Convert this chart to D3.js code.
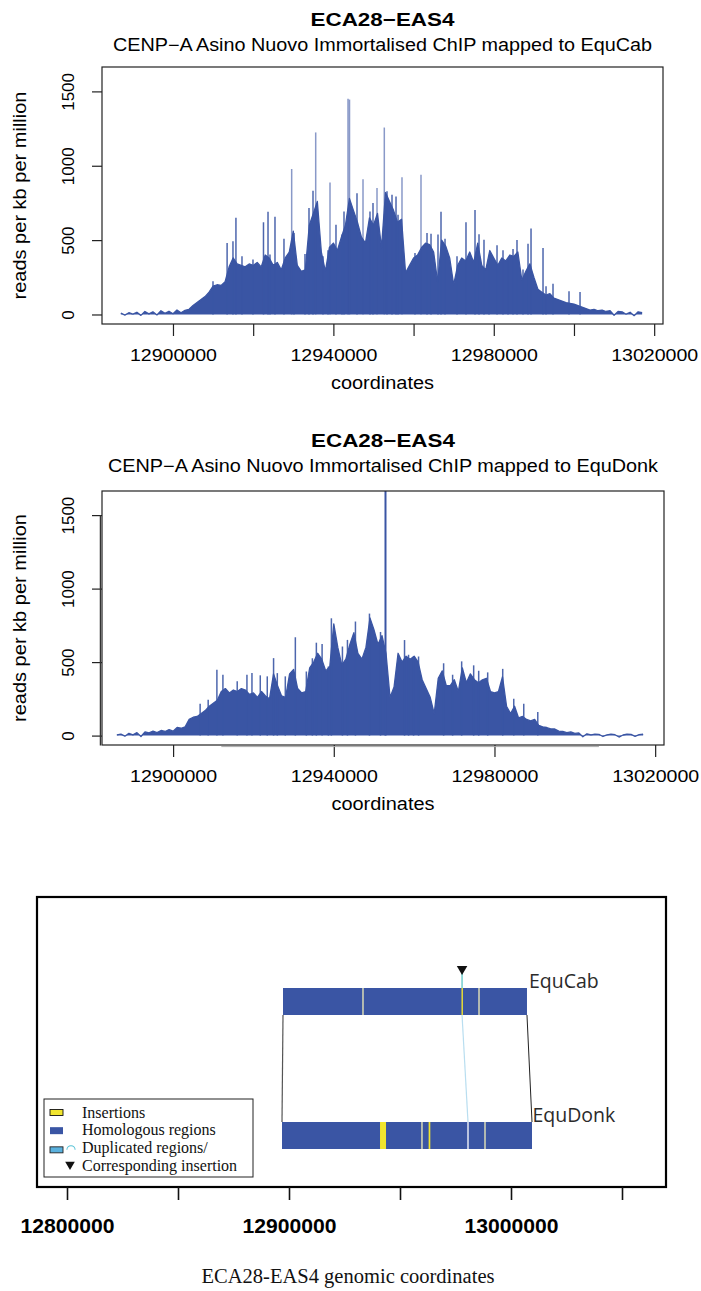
<!DOCTYPE html>
<html>
<head>
<meta charset="utf-8">
<script src="https://cdn.jsdelivr.net/npm/d3@7"></script>
<style>
  body { margin: 0; background: #fff; }
  svg { display: block; }
</style>
</head>
<body>
<svg id="fig" width="701" height="1291"></svg>
<script>
// ---------- CENP-A ChIP coverage, reads per kb per million, 1 kb bins ----------
const binSize = 1000;

// mapped to EquCab
const cabStart = 12887000;
const cabValues = [
  10, -4, 12, 2, 15, -6, 20, 4, 18, -3,
  25, 8, 22, 5, 30, 12, 28, 35, 60, 80,
  100, 120, 150, 190, 200, 195, 220, 320, 380, 340,
  330, 320, 340, 330, 350, 320, 400, 380, 330, 350,
  300, 380, 420, 560, 330, 290, 300, 600, 680, 760,
  420, 290, 450, 480, 430, 520, 600, 780, 700, 620,
  520, 480, 650, 600, 680, 450, 820, 760, 700, 620,
  640, 280, 330, 380, 400, 450, 480, 470, 420, 220,
  500, 460, 380, 200, 330, 380, 360, 420, 350, 480,
  330, 300, 430, 380, 330, 380, 360, 400, 390, 420,
  230, 290, 340, 250, 170, 150, 130, 140, 110, 100,
  90, 80, 75, 70, 60, 50, 40, 30, 35, 25,
  30, 20, 25, -5, 20, 18, 2, 15, -8, 18,
  12
];
// narrow peaks standing above the neighbouring bins
const cabPeakPos = [
  12909980, 12913500, 12914960, 12915700, 12917210, 12919950, 12922570,
  12923700, 12924190, 12925440, 12927680, 12929600, 12930180, 12932920,
  12933920, 12934920, 12935590, 12937410, 12938660, 12939160, 12940650,
  12942150, 12942650, 12943650, 12944020, 12945890, 12947390, 12949130,
  12949880, 12950880, 12952700, 12953370, 12954620, 12955620, 12956120,
  12957110, 12960350, 12961850, 12963350, 12964350, 12966090, 12966840,
  12967840, 12970830, 12973070, 12975320, 12976320, 12977560, 12978810,
  12980810, 12982300, 12983550, 12984800, 12985790, 12987290, 12988540,
  12989290, 12992280, 12993030, 12994770, 12998760, 13001510
];
const cabPeakVal = [
  224, 480, 492, 650, 391, 369, 620,
  690, 403, 657, 510, 978, 548, 407,
  716, 832, 1224, 391, 432, 888, 604,
  537, 693, 1450, 1445, 815, 910, 693,
  750, 851, 1257, 829, 805, 794, 671,
  922, 414, 940, 548, 543, 537, 691,
  510, 392, 620, 702, 540, 502, 369,
  465, 432, 369, 441, 500, 302, 475,
  578, 447, 190, 206, 157, 152
];

// mapped to EquDonk
const donkStart = 12886000;
const donkValues = [
  5, 10, -4, 15, 5, 20, -6, 25, 18, 30,
  20, 35, 28, 40, 30, 55, 50, 60, 110, 125,
  130, 150, 170, 200, 220, 240, 300, 320, 290, 310,
  300, 320, 310, 280, 290, 260, 300, 270, 250, 420,
  340, 270, 260, 420, 450, 320, 290, 300, 460, 500,
  560, 520, 440, 470, 760, 600, 480, 520, 620, 700,
  560, 520, 600, 800, 720, 620, 680, 560, 260, 330,
  560, 500, 540, 520, 540, 500, 380, 320, 260, 150,
  390, 440, 340, 340, 380, 300, 460, 360, 420, 380,
  360, 380, 390, 300, 290, 300, 400, 200, 150, 200,
  120, 130, 110, 100, 110, 70, 60, 55, 45, 45,
  30, 28, 20, 25, 15, 18, -8, 12, 5, 10,
  8, -6, 5, 10, 6, -10, 4, 10, 8, -5,
  6, 10
];
const donkPeakPos = [
  12906730, 12908730, 12910900, 12912400, 12915960, 12918380, 12919630,
  12921700, 12923440, 12925010, 12925940, 12927930, 12930430, 12933170,
  12934670, 12935660, 12937090, 12938660, 12939400, 12942150, 12943400,
  12945390, 12948880, 12951630, 12952870, 12957610, 12958610, 12959860,
  12961100, 12967340, 12969580, 12971830, 12974820, 12976070, 12978310,
  12982050, 12984800, 12987290, 12990780
];
const donkPeakVal = [
  217, 244, 448, 414, 369, 414, 425,
  410, 403, 527, 425, 403, 669, 436,
  526, 632, 623, 470, 798, 606, 651,
  776, 830, 705, 1720, 650, 550, 538,
  538, 492, 414, 505, 478, 441, 430,
  454, 250, 217, 160
];

const yTickValues = [0, 500, 1000, 1500];
const cabTickValues = [12900000, 12920000, 12940000, 12960000, 12980000, 13000000, 13020000];
const donkTickValues = [12900000, 12940000, 12980000, 13020000];
const labelledTicks = [12900000, 12940000, 12980000, 13020000];

// ---------- synteny panel ----------
const genomes = ["EquCab", "EquDonk"];
const homStart = [12897300, 12896850];
const homEnd = [13007200, 13009460];
const insGenome = ["EquCab", "EquDonk", "EquDonk"];
const insStart = [12977700, 12941000, 12962900];
const insEnd = [12978250, 12943700, 12963650];
const breakGenome = ["EquCab", "EquCab", "EquDonk", "EquDonk", "EquDonk"];
const breakPos = [12933330, 12985590, 12959900, 12980630, 12988290];
const breakTone = ["pale", "pale", "pale", "white", "pale"];
const dupFrom = 12977950;   // EquCab
const dupTo = 12980630;     // EquDonk
const synTicks = [12800000, 12850000, 12900000, 12950000, 13000000, 13050000];
const synLabels = [12800000, 12900000, 13000000];
const legendItems = ["Insertions", "Homologous regions", "Duplicated regions/", "Corresponding insertion"];

// ---------- drawing ----------
const svg = d3.select("#fig");
const SANS = "'Liberation Sans', Arial, Helvetica, sans-serif";
const SERIF = "'Liberation Serif', 'Times New Roman', serif";
const BLUE = "#3a55a4";
const YELLOW = "#f1e52f";

function addText(g, txt, x, y, o) {
  const t = g.append("text")
    .attr("x", x).attr("y", y)
    .attr("font-family", o.family || SANS)
    .attr("font-size", o.size)
    .attr("text-anchor", o.anchor || "middle")
    .attr("fill", o.fill || "#000")
    .text(txt);
  if (o.weight) t.attr("font-weight", o.weight);
  if (o.len) t.attr("textLength", o.len).attr("lengthAdjust", "spacingAndGlyphs");
  if (o.rotate) t.attr("transform", `rotate(${o.rotate},${x},${y})`);
  return t;
}

function profilePanel(cfg) {
  const b = cfg.box;
  const x = d3.scaleLinear().domain([12882300, 13022200]).range([b.left, b.right]);
  const y = d3.scaleLinear().domain([-64, 1664]).range([b.bottom, b.top]);
  const g = svg.append("g");

  g.append("clipPath").attr("id", cfg.id + "-clip")
    .append("rect").attr("x", b.left).attr("y", b.top)
    .attr("width", b.right - b.left).attr("height", b.bottom - b.top);
  const plot = g.append("g").attr("clip-path", `url(#${cfg.id}-clip)`);

  const pts = cfg.values.map((v, i) => ({ pos: cfg.start + i * binSize, v }));
  plot.append("path").datum(pts)
    .attr("d", d3.area().x(d => x(d.pos)).y0(y(0)).y1(d => y(d.v)))
    .attr("fill", BLUE);
  plot.append("path").datum(pts)
    .attr("d", d3.line().x(d => x(d.pos)).y(d => y(d.v)))
    .attr("fill", "none").attr("stroke", BLUE).attr("stroke-width", 1.3)
    .attr("stroke-linejoin", "round");

  const peaks = d3.zip(cfg.peakPos, cfg.peakVal);
  plot.selectAll("line.peak").data(peaks).join("line")
    .attr("class", "peak")
    .attr("x1", d => x(d[0])).attr("x2", d => x(d[0]))
    .attr("y1", y(0)).attr("y2", d => y(d[1]))
    .attr("stroke", BLUE)
    .attr("stroke-width", d => d[1] > 1600 ? 2 : 1.5)
    .attr("stroke-opacity", d => d[1] > 1600 ? 1 : (d[1] > 850 ? cfg.peakOpacity : 0.9));

  // frame
  g.append("rect").attr("x", b.left).attr("y", b.top)
    .attr("width", b.right - b.left).attr("height", b.bottom - b.top)
    .attr("fill", "none").attr("stroke", "#222").attr("stroke-width", 1.2);

  // x axis
  const ax = g.append("g").attr("transform", `translate(0,${b.bottom})`)
    .call(d3.axisBottom(x).tickValues(cfg.ticks).tickSize(12).tickFormat(d => labelledTicks.includes(d) ? d3.format("d")(d) : ""));
  ax.select(".domain").remove();
  ax.selectAll(".tick line").attr("stroke", "#222").attr("stroke-width", 1.2);
  ax.selectAll(".tick text").attr("y", 37).attr("dy", null)
    .attr("font-family", SANS).attr("font-size", 17).attr("fill", "#000")
    .filter(function () { return this.textContent !== ""; })
    .attr("textLength", 87).attr("lengthAdjust", "spacingAndGlyphs");

  // y axis
  const ay = g.append("g").attr("transform", `translate(${b.left},0)`)
    .call(d3.axisLeft(y).tickValues(yTickValues).tickSize(10).tickFormat(d3.format("d")));
  ay.select(".domain").remove();
  ay.selectAll(".tick line").attr("stroke", "#222").attr("stroke-width", 1.2);
  ay.selectAll(".tick text")
    .attr("x", -28).attr("dy", null).attr("text-anchor", "middle")
    .attr("transform", "rotate(-90,-28,0)")
    .attr("font-family", SANS).attr("font-size", 17).attr("fill", "#000");

  if (cfg.axisLine) {
    g.append("line").attr("x1", b.left - 1.6).attr("x2", b.left - 1.6)
      .attr("y1", y(1500)).attr("y2", b.bottom + 0.5)
      .attr("stroke", "#333").attr("stroke-width", 1.3);
    g.append("line").attr("x1", x(12912000)).attr("x2", x(13006000))
      .attr("y1", b.bottom + 1.6).attr("y2", b.bottom + 1.6)
      .attr("stroke", "#aaa").attr("stroke-width", 1);
  }

  const cx = (b.left + b.right) / 2;
  addText(g, "ECA28\u2212EAS4", cx, cfg.titleY, { size: 18.5, weight: "bold", len: 144 });
  addText(g, cfg.subtitle, cx, cfg.titleY + 25, { size: 17.5, len: cfg.subLen });
  addText(g, "coordinates", cx, b.bottom + 65, { size: 17.5, len: 103 });
  addText(g, "reads per kb per million", 25.5, (b.top + b.bottom) / 2, { size: 18, rotate: -90, len: 208 });
}

profilePanel({
  id: "cab", box: { left: 102, right: 663, top: 67, bottom: 324 },
  start: cabStart, values: cabValues, peakPos: cabPeakPos, peakVal: cabPeakVal,
  peakOpacity: 0.6, ticks: cabTickValues, titleY: 26,
  subtitle: "CENP\u2212A Asino Nuovo Immortalised ChIP mapped to EquCab", subLen: 539
});
profilePanel({
  id: "donk", box: { left: 102, right: 664, top: 491, bottom: 745 },
  start: donkStart, values: donkValues, peakPos: donkPeakPos, peakVal: donkPeakVal,
  peakOpacity: 0.9, ticks: donkTickValues, titleY: 447, axisLine: true,
  subtitle: "CENP\u2212A Asino Nuovo Immortalised ChIP mapped to EquDonk", subLen: 550
});

// ---------- synteny panel ----------
(function () {
  const box = { left: 37, right: 666, top: 897, bottom: 1187 };
  const sx = d3.scaleLinear().domain([12800000, 13050000]).range([67, 622]);
  const row = d3.scalePoint().domain(genomes).range([988, 1122]);
  const barH = 27;
  const g = svg.append("g");

  g.append("rect").attr("x", box.left).attr("y", box.top)
    .attr("width", box.right - box.left).attr("height", box.bottom - box.top)
    .attr("fill", "#fff").attr("stroke", "#000").attr("stroke-width", 2.2);

  // homology end connectors
  g.append("line")
    .attr("x1", sx(homStart[0])).attr("y1", row("EquCab") + barH)
    .attr("x2", sx(homStart[1])).attr("y2", row("EquDonk"))
    .attr("stroke", "#555").attr("stroke-width", 1.2);
  g.append("line")
    .attr("x1", sx(homEnd[0])).attr("y1", row("EquCab") + barH)
    .attr("x2", sx(homEnd[1])).attr("y2", row("EquDonk"))
    .attr("stroke", "#222").attr("stroke-width", 1);

  // homologous blocks
  g.selectAll("rect.hom").data(genomes).join("rect").attr("class", "hom")
    .attr("x", (d, i) => sx(homStart[i])).attr("y", d => row(d))
    .attr("width", (d, i) => sx(homEnd[i]) - sx(homStart[i])).attr("height", barH)
    .attr("fill", BLUE);

  // block boundaries
  g.selectAll("line.brk").data(d3.range(breakPos.length)).join("line").attr("class", "brk")
    .attr("x1", i => sx(breakPos[i])).attr("x2", i => sx(breakPos[i]))
    .attr("y1", i => row(breakGenome[i])).attr("y2", i => row(breakGenome[i]) + barH)
    .attr("stroke", i => breakTone[i] === "white" ? "#ffffff" : "#f2efb8")
    .attr("stroke-width", 1.3);

  // insertions
  g.selectAll("rect.ins").data(d3.range(insStart.length)).join("rect").attr("class", "ins")
    .attr("x", i => sx(insStart[i])).attr("y", i => row(insGenome[i]))
    .attr("width", i => Math.max(1.4, sx(insEnd[i]) - sx(insStart[i]))).attr("height", barH)
    .attr("fill", YELLOW);

  // duplicated region link
  g.append("line")
    .attr("x1", sx(dupFrom)).attr("y1", row("EquCab") + barH)
    .attr("x2", sx(dupTo)).attr("y2", row("EquDonk"))
    .attr("stroke", "#b9def0").attr("stroke-width", 1.2);
  g.append("line")
    .attr("x1", sx(dupFrom)).attr("x2", sx(dupFrom))
    .attr("y1", row("EquCab") - 15).attr("y2", row("EquCab"))
    .attr("stroke", "#5cc6c6").attr("stroke-width", 1.3);
  g.append("path")
    .attr("d", d3.symbol(d3.symbolTriangle, 48)())
    .attr("transform", `translate(${sx(dupFrom)},${row("EquCab") - 19}) rotate(180)`)
    .attr("fill", "#111");

  // genome names
  addText(g, "EquCab", sx(homEnd[0]) + 2, row("EquCab"), { family: "'Open Sans', 'Noto Sans', sans-serif", size: 19.5, anchor: "start", fill: "#2b2b2b" });
  addText(g, "EquDonk", sx(homEnd[1]) + 0.5, row("EquDonk"), { family: "'Open Sans', 'Noto Sans', sans-serif", size: 19.5, anchor: "start", fill: "#2b2b2b" });

  // legend
  const lg = g.append("g");
  lg.append("rect").attr("x", 44).attr("y", 1099).attr("width", 209).attr("height", 78)
    .attr("fill", "#fff").attr("stroke", "#222").attr("stroke-width", 1);
  const ly = d3.scalePoint().domain(legendItems).range([1117.5, 1170.5]);
  legendItems.forEach(t => addText(lg, t, 82, ly(t), { family: SERIF, size: 16, anchor: "start", fill: "#111" }));
  lg.append("rect").attr("x", 50).attr("y", ly(legendItems[0]) - 8).attr("width", 13).attr("height", 6)
    .attr("fill", YELLOW).attr("stroke", "#111").attr("stroke-width", 0.9);
  lg.append("rect").attr("x", 50).attr("y", ly(legendItems[1]) - 8).attr("width", 13).attr("height", 7)
    .attr("fill", BLUE);
  lg.append("rect").attr("x", 50).attr("y", ly(legendItems[2]) - 6).attr("width", 13).attr("height", 6)
    .attr("fill", "#5ab1de").attr("stroke", "#222").attr("stroke-width", 0.9);
  lg.append("path")
    .attr("d", d3.arc()({ innerRadius: 3.6, outerRadius: 4.6, startAngle: -Math.PI / 2, endAngle: Math.PI / 2 }))
    .attr("transform", `translate(71,${ly(legendItems[2]) - 3})`)
    .attr("fill", "#56c2d6");
  lg.append("path")
    .attr("d", d3.symbol(d3.symbolTriangle, 40)())
    .attr("transform", `translate(70,${ly(legendItems[3]) - 6}) rotate(180)`)
    .attr("fill", "#111");

  // coordinate axis
  const ax = g.append("g").attr("transform", `translate(0,${box.bottom})`)
    .call(d3.axisBottom(sx).tickValues(synTicks).tickSize(13)
      .tickFormat(d => synLabels.includes(d) ? d3.format("d")(d) : ""));
  ax.select(".domain").remove();
  ax.selectAll(".tick line").attr("stroke", "#111").attr("stroke-width", 1.6);
  ax.selectAll(".tick text").attr("y", 46).attr("dy", null)
    .attr("font-family", SANS).attr("font-size", 20).attr("font-weight", "bold").attr("fill", "#000")
    .filter(function () { return this.textContent !== ""; })
    .attr("textLength", 94).attr("lengthAdjust", "spacingAndGlyphs");

  addText(g, "ECA28-EAS4 genomic coordinates", 348, 1283, { family: SERIF, size: 20, len: 293, fill: "#111" });
})();
</script>
</body>
</html>
